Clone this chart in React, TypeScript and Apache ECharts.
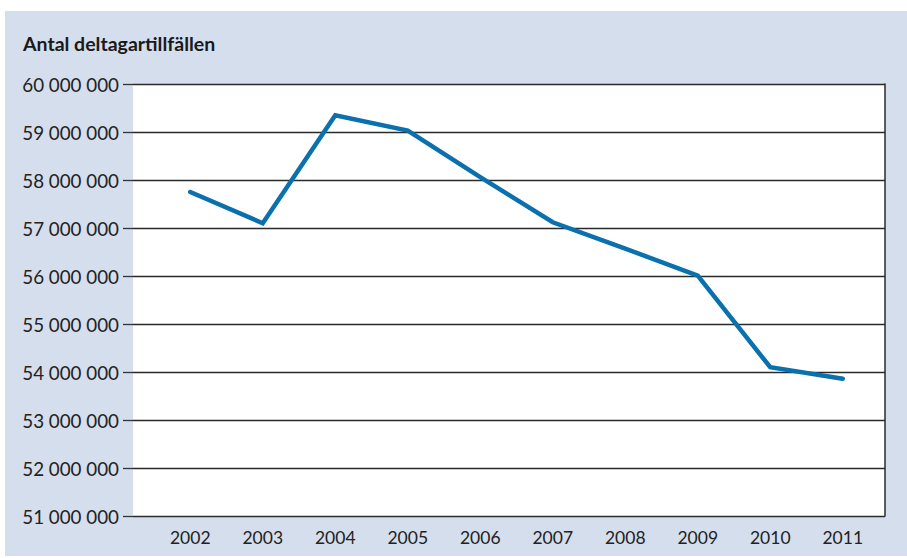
import React, { useEffect, useRef } from "react";
import * as echarts from "echarts";

const title = "Antal deltagartillfällen";
const years = ["2002", "2003", "2004", "2005", "2006", "2007", "2008", "2009", "2010", "2011"];
const participants = [57750000, 57100000, 59350000, 59030000, 58060000, 57120000, 56570000, 56010000, 54100000, 53860000];
const yMin = 51000000;
const yMax = 60000000;
const yStep = 1000000;

const fmt = (v: number) => String(Math.round(v)).replace(/\B(?=(\d{3})+(?!\d))/g, " ");

export default function App() {
  const ref = useRef<HTMLDivElement>(null);
  useEffect(() => {
    if (!ref.current) return;
    const chart = echarts.init(ref.current, null, { renderer: "svg" });
    const font = "Lato, 'Noto Sans', sans-serif";
    chart.setOption({
      animation: false,
      backgroundColor: "#ffffff",
      graphic: [
        {
          type: "rect",
          left: 5,
          top: 11,
          shape: { width: 902, height: 545 },
          style: { fill: "#d4deec" },
          z: -10,
          silent: true,
        },
      ],
      title: {
        text: title,
        left: 18,
        top: 28,
        textStyle: { fontFamily: font, fontWeight: "bold", fontSize: 19.5, color: "#1a1a1a" },
      },
      grid: [
        { left: 133, right: 22, top: 84, height: 432, show: true, backgroundColor: "#ffffff", borderWidth: 0 },
        { left: 154, right: 28, top: 84, height: 432 },
      ],
      xAxis: [
        { type: "category", gridIndex: 0, data: years, show: false },
        {
          type: "category",
          gridIndex: 1,
          data: years,
          boundaryGap: true,
          axisLine: { show: false },
          axisTick: { show: false },
          axisLabel: { color: "#222", fontFamily: font, fontSize: 17.5, margin: 12 },
        },
      ],
      yAxis: [
        {
          type: "value",
          gridIndex: 0,
          min: yMin,
          max: yMax,
          interval: yStep,
          axisLine: { show: false },
          axisTick: { show: true, length: 10, lineStyle: { color: "#333", width: 1.3 } },
          splitLine: { show: true, lineStyle: { color: "#2a2a2a", width: 1.3 } },
          axisLabel: { color: "#222", fontFamily: font, fontSize: 18.8, margin: 14, formatter: fmt },
        },
        {
          type: "value",
          gridIndex: 0,
          position: "right",
          min: yMin,
          max: yMax,
          interval: yStep,
          axisLine: { show: true, lineStyle: { color: "#2a2a2a", width: 1.5 } },
          axisTick: { show: false },
          axisLabel: { show: false },
          splitLine: { show: false },
        },
        { type: "value", gridIndex: 1, min: yMin, max: yMax, interval: yStep, show: false, splitLine: { show: false } },
      ],
      series: [
        {
          type: "line",
          xAxisIndex: 1,
          yAxisIndex: 2,
          data: participants,
          symbol: "none",
          lineStyle: { color: "#0a70ae", width: 4.5, cap: "round", join: "miter" },
        },
      ],
    });
    return () => chart.dispose();
  }, []);
  return <div ref={ref} style={{ position: "fixed", left: 0, top: 0, width: 907, height: 558 }} />;
}
